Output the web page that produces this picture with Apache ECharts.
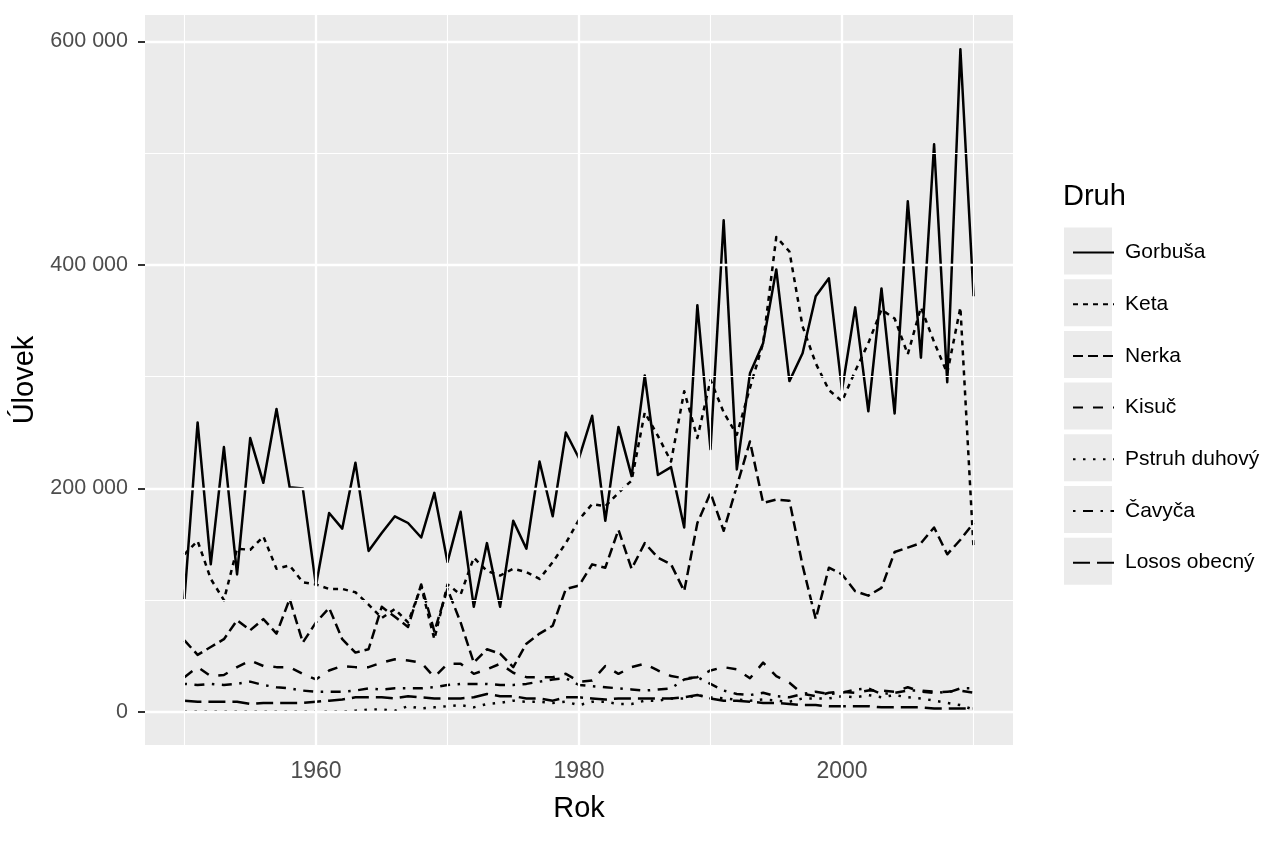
<!DOCTYPE html>
<html>
<head>
<meta charset="utf-8">
<script src="https://cdn.jsdelivr.net/npm/echarts@6/dist/echarts.min.js"></script>
<style>
html,body{margin:0;padding:0;background:#fff;}
#chart{width:1264px;height:843px;}
</style>
</head>
<body>
<div id="chart"></div>
<script>
// Years 1950..2010
const years = [];
for (let y = 1950; y <= 2010; y++) years.push(y);

const gorbusa = [101000,259000,132000,237000,123000,245000,205000,271000,201000,200000,
113000,178000,164000,223000,144000,160000,175000,169000,156000,196000,
134000,179000,94000,151000,94000,171000,146000,224000,175000,250000,
227000,265000,171000,255000,211000,301000,212000,219000,165000,364000,
235000,440000,217000,303000,330000,396000,296000,321000,372000,388000,
288000,362000,269000,379000,267000,457000,317000,508000,295000,593000,372000];

const keta = [141000,153000,119000,100000,146000,145000,157000,128000,131000,116000,
114000,110000,110000,107000,96000,84000,92000,80000,112000,65000,
114000,105000,138000,126000,122000,128000,125000,119000,134000,151000,
172000,186000,184000,196000,207000,268000,247000,224000,287000,245000,
297000,268000,248000,290000,330000,425000,412000,345000,312000,288000,
278000,305000,330000,360000,352000,320000,362000,331000,303000,362000,146000];

const nerka = [64000,51000,58000,65000,82000,73000,83000,70000,101000,62000,
80000,93000,65000,53000,56000,94000,85000,76000,114000,72000,
110000,80000,44000,56000,52000,40000,61000,70000,77000,110000,
113000,132000,129000,163000,128000,151000,138000,132000,108000,169000,
196000,162000,202000,242000,187000,190000,189000,131000,83000,129000,
123000,108000,104000,111000,143000,147000,151000,165000,141000,154000,169000];

const kisuc = [31000,40000,32000,33000,40000,46000,41000,40000,40000,34000,
29000,37000,41000,40000,40000,44000,47000,46000,44000,31000,
43000,43000,34000,38000,43000,35000,31000,31000,31000,34000,
27000,28000,41000,34000,40000,43000,37000,32000,30000,31000,
37000,40000,38000,30000,44000,32000,26000,16000,14000,17000,
18000,17000,19000,19000,18000,22000,18000,17000,18000,19000,17000];

const pstruh = [0,0,0,0,0,0,0,0,0,0,
0,0,0,1000,2000,2000,1000,5000,3000,4000,
5000,6000,4000,7000,8000,10000,9000,9000,8000,9000,
6000,9000,9000,7000,7000,10000,10000,12000,12000,15000,
13000,12000,11000,10000,11000,10000,9000,12000,12000,12000,
14000,13000,15000,13000,15000,13000,12000,10000,8000,6000,2000];

const cavyca = [25000,24000,25000,24000,25000,27000,24000,22000,21000,19000,
18000,18000,18000,19000,21000,20000,21000,21000,21000,22000,
24000,25000,25000,25000,24000,24000,25000,27000,29000,30000,
24000,23000,22000,21000,20000,19000,20000,21000,29000,31000,
25000,19000,16000,15000,17000,14000,13000,16000,18000,16000,
17000,20000,21000,16000,17000,19000,19000,18000,17000,21000,21000];

const losos = [10000,9000,9000,9000,9000,7000,8000,8000,8000,8000,
9000,10000,11000,13000,13000,13000,12000,14000,13000,12000,
12000,12000,13000,16000,14000,14000,12000,12000,10000,13000,
13000,12000,11000,12000,12000,12000,12000,12000,13000,15000,
12000,10000,10000,9000,8000,8000,7000,6000,6000,5000,
5000,5000,5000,4000,4000,4000,4000,3000,3000,3000,3000];

const speciesNames = ['Gorbuša','Keta','Nerka','Kisuč','Pstruh duhový','Čavyča','Losos obecný'];
const speciesValues = [gorbusa, keta, nerka, kisuc, pstruh, cavyca, losos];

const xTickLabels = [1960, 1980, 2000];
const xMinorLines = [1950, 1970, 1990, 2010];
const yTickLabels = [0, 200000, 400000, 600000];
const yMinorLines = [100000, 300000, 500000];

const LW = 2.5;
const dashes = ['solid', [5,5], [10,5], [10,10], [2.5,7.5], [2.5,7.5,10,7.5], [17,7]];

const FONT = "'Liberation Sans', Arial, sans-serif";

const fmt = v => String(v).replace(/\B(?=(\d{3})+(?!\d))/g, ' ');

const dataSeries = speciesNames.map((name, i) => ({
  name: name,
  type: 'line',
  data: years.map((y, j) => [y, speciesValues[i][j]]),
  symbol: 'none',
  showSymbol: false,
  z: 3,
  animation: false,
  lineStyle: { color: '#000', width: LW, type: dashes[i], cap: 'butt', join: 'round' },
  itemStyle: { color: '#000' }
}));

const gridLineSeries = {
  type: 'line',
  data: [],
  z: 1,
  silent: true,
  animation: false,
  markLine: {
    silent: true,
    symbol: 'none',
    animation: false,
    label: { show: false },
    lineStyle: { color: '#ffffff', type: 'solid' },
    data: [].concat(
      yMinorLines.map(v => ({ yAxis: v, lineStyle: { width: 1.1, color: '#fff', type: 'solid' } })),
      xMinorLines.map(v => ({ xAxis: v, lineStyle: { width: 1.1, color: '#fff', type: 'solid' } })),
      yTickLabels.map(v => ({ yAxis: v, lineStyle: { width: 2.3, color: '#fff', type: 'solid' } })),
      xTickLabels.map(v => ({ xAxis: v, lineStyle: { width: 2.3, color: '#fff', type: 'solid' } }))
    )
  }
};

const keyGraphics = speciesNames.map((n, i) => ({
  type: 'rect',
  left: 1064,
  top: 227.5 + i * 51.7,
  shape: { width: 48, height: 47 },
  style: { fill: '#EBEBEB' },
  z: -1,
  silent: true
}));

const chart = echarts.init(document.getElementById('chart'), null, { renderer: 'canvas' });
chart.setOption({
  backgroundColor: '#ffffff',
  animation: false,
  textStyle: { fontFamily: FONT },
  title: {
    text: 'Druh',
    left: 1058,
    top: 177,
    textStyle: { fontFamily: FONT, fontSize: 29, fontWeight: 'normal', color: '#000' }
  },
  graphic: keyGraphics,
  legend: {
    data: speciesNames,
    orient: 'vertical',
    left: 1067,
    top: 237,
    itemWidth: 41,
    itemHeight: 21,
    itemGap: 30.7,
    selectedMode: false,
    itemStyle: { opacity: 0, borderWidth: 0 },
    textStyle: { fontFamily: FONT, fontSize: 21, color: '#000', padding: [0, 0, 0, 6] }
  },
  grid: {
    left: 145, top: 15, width: 868, height: 730,
    show: true, backgroundColor: '#EBEBEB', borderWidth: 0,
    containLabel: false
  },
  xAxis: {
    type: 'value',
    min: 1947, max: 2013,
    name: 'Rok',
    nameLocation: 'middle',
    nameGap: 49,
    nameTextStyle: { fontFamily: FONT, fontSize: 29, color: '#000' },
    axisLine: { show: false },
    splitLine: { show: false },
    axisTick: { show: true, customValues: xTickLabels, length: 7, lineStyle: { color: '#333', width: 2 } },
    axisLabel: { customValues: xTickLabels, fontFamily: FONT, fontSize: 23, color: '#4D4D4D', margin: 15, formatter: v => String(v) }
  },
  yAxis: {
    type: 'value',
    min: -29700, max: 623700,
    name: 'Úlovek',
    nameLocation: 'middle',
    nameGap: 101,
    nameTextStyle: { fontFamily: FONT, fontSize: 29, color: '#000' },
    axisLine: { show: false },
    splitLine: { show: false },
    axisTick: { show: true, customValues: yTickLabels, length: 7, lineStyle: { color: '#333', width: 2 } },
    axisLabel: { customValues: yTickLabels, fontFamily: FONT, fontSize: 21.5, color: '#4D4D4D', margin: 17, formatter: fmt }
  },
  series: [gridLineSeries].concat(dataSeries)
});
</script>
</body>
</html>
